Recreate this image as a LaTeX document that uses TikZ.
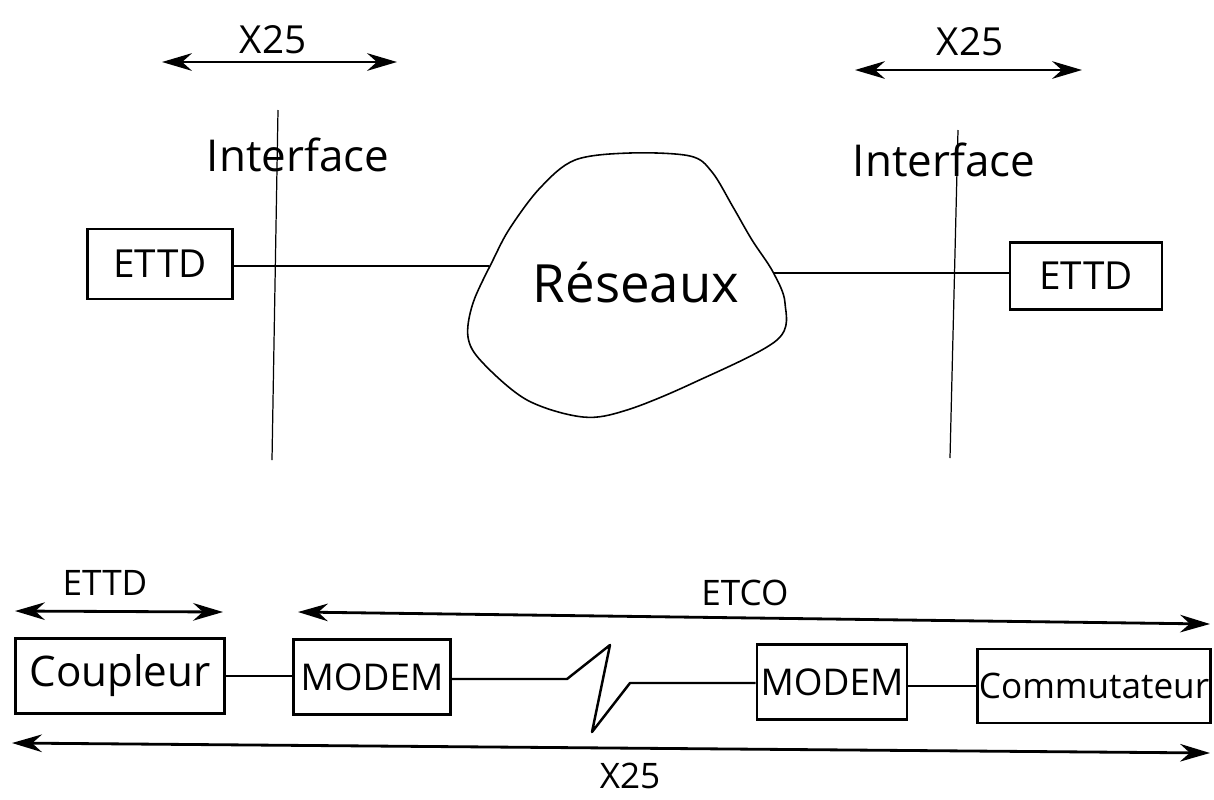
\documentclass[tikz,border=0pt]{standalone}
\usepackage{fontspec}
\setmainfont{Open Sans}
\usepackage{tikz}
\usetikzlibrary{arrows.meta, positioning, calc}

\tikzset{
    box/.style={draw, line width=1.5pt, inner sep=0pt},
    wire/.style={line width=1.4pt},
    dimarrow/.style={line width=1.6pt, {Stealth[length=17pt,width=10pt]}-{Stealth[length=17pt,width=10pt]}},
    iface/.style={line width=0.7pt},
    lbl/.style={inner sep=0pt}
}

\begin{document}
\begin{tikzpicture}[x=0.02cm, y=-0.02cm]
    \useasboundingbox (0,0) rectangle (1214,799);

    % Top: X25 ranges
    \coordinate (tlA) at (162,62);  \coordinate (tlB) at (397,62);
    \coordinate (trA) at (855,70);  \coordinate (trB) at (1082,70);
    \draw[dimarrow] (tlA) -- (tlB);
    \draw[dimarrow] (trA) -- (trB);
    \node[lbl, font=\fontsize{22}{22}\selectfont] (xA) at (273,40) {X25};
    \node[lbl, font=\fontsize{22}{22}\selectfont] (xB) at (970,42) {X25};

    % Interfaces
    \node[lbl, font=\fontsize{25}{25}\selectfont] (ifA) at (298,155) {Interface};
    \node[lbl, font=\fontsize{25}{25}\selectfont] (ifB) at (944,160) {Interface};
    \draw[iface] (278,110) -- (272,460);
    \draw[iface] (958,130) -- (950,458);

    % The network cloud
    \draw[line width=0.9pt] plot[smooth cycle, tension=0.55] coordinates {
        (493,260) (510,228) (540,188) (575,160) (630,153) (690,156) (712,172)
        (733,207) (752,240) (773,272) (785,303) (777,340) (693,383) (627,410)
        (583,417) (527,400) (482,362) (468,337) (473,303)};
    \node[lbl, font=\fontsize{30}{30}\selectfont] (res) at (636,283) {Réseaux};
    \coordinate (resW) at (489,266);
    \coordinate (resE) at (774,273);

    % Terminals
    \node[box, minimum width=2.9cm, minimum height=1.4cm, font=\fontsize{22}{22}\selectfont] (ettdA) at (160,264) {ETTD};
    \node[box, minimum width=3.04cm, minimum height=1.34cm, font=\fontsize{22}{22}\selectfont] (ettdB) at (1086,276) {ETTD};
    \draw[wire] (ettdA.east |- resW) -- (resW);
    \draw[wire] (resE) -- (ettdB.west |- resE);

    % Bottom: ranges
    \coordinate (eA) at (15,611);   \coordinate (eB) at (223,612);
    \coordinate (cA) at (298,612);  \coordinate (cB) at (1210,624);
    \coordinate (zA) at (12,743);   \coordinate (zB) at (1210,753);
    \draw[dimarrow] (eA) -- (eB);
    \draw[dimarrow] (cA) -- (cB);
    \draw[dimarrow] (zA) -- (zB);
    \node[lbl, font=\fontsize{20}{20}\selectfont] (ettdLbl) at (105,583) {ETTD};
    \node[lbl, font=\fontsize{20}{20}\selectfont] (etco) at (745,593) {ETCO};
    \node[lbl, font=\fontsize{20}{20}\selectfont] (xC) at (630,776) {X25};

    % Bottom: chain
    \node[box, minimum width=4.18cm, minimum height=1.5cm, font=\fontsize{24}{24}\selectfont] (coupl) at (120,676) {Coupleur};
    \node[box, minimum width=3.14cm, minimum height=1.5cm, font=\fontsize{21}{21}\selectfont] (modemA) at (372,677) {MODEM};
    \node[box, minimum width=3.0cm, minimum height=1.5cm, font=\fontsize{21}{21}\selectfont] (modemB) at (832,682) {MODEM};
    \node[box, minimum width=4.66cm, minimum height=1.48cm, font=\fontsize{20}{20}\selectfont] (commut) at (1094,686) {Commutateur};
    \draw[wire] (coupl.east) -- (coupl.east -| modemA.west);
    \draw[wire] (modemB.east |- commut.west) -- (commut.west);

    % Line break in the link
    \coordinate (brkA) at (567,679);
    \coordinate (brkB) at (610,645);
    \coordinate (brkC) at (592,732);
    \coordinate (brkD) at (630,683);
    \draw[wire, line join=round] (modemA.east |- brkA) -- (brkA) -- (brkB) -- (brkC) -- (brkD) -- (modemB.west |- brkD);
\end{tikzpicture}
\end{document}
